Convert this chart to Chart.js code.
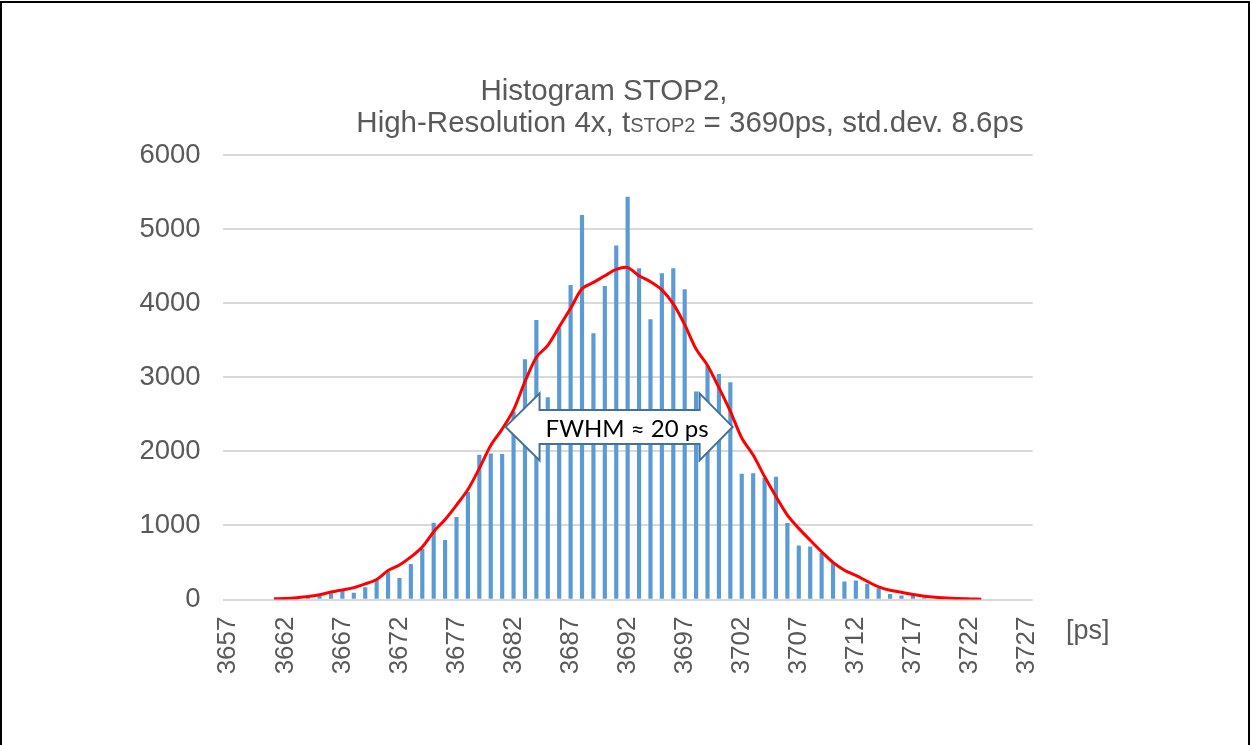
<!DOCTYPE html>
<html>
<head>
<meta charset="utf-8">
<script src="https://cdn.jsdelivr.net/npm/chart.js@4"></script>
<style>
  body { margin: 0; background: #fff; }
  #frame { position: absolute; left: 0; top: 1px; width: 1246px; height: 800px; border: 2px solid #000; }
  #histo { position: absolute; left: 0; top: 0; }
</style>
</head>
<body>
<div id="frame"></div>
<canvas id="histo" width="1251" height="745"></canvas>
<script>
// histogram of STOP2 time stamps, 1 ps bins
const categories = [
  3657, 3658, 3659, 3660, 3661, 3662, 3663, 3664, 3665, 3666,
  3667, 3668, 3669, 3670, 3671, 3672, 3673, 3674, 3675, 3676,
  3677, 3678, 3679, 3680, 3681, 3682, 3683, 3684, 3685, 3686,
  3687, 3688, 3689, 3690, 3691, 3692, 3693, 3694, 3695, 3696,
  3697, 3698, 3699, 3700, 3701, 3702, 3703, 3704, 3705, 3706,
  3707, 3708, 3709, 3710, 3711, 3712, 3713, 3714, 3715, 3716,
  3717, 3718, 3719, 3720, 3721, 3722, 3723, 3724, 3725, 3726,
  3727
];

// empty bins left as null so nothing is drawn there
const barCounts = [
  null, null, null, null, null, null, 5, 20, 47, 80,
  115, 85, 160, 263, 370, 285, 475, 680, 1030, 800,
  1110, 1445, 1950, 1965, 1960, 2532, 3238, 3768, 2726, 3660,
  4240, 5184, 3589, 4227, 4775, 5431, 4466, 3778, 4398, 4466,
  4182, 2802, 3150, 3040, 2928, 1692, 1701, 1634, 1652, 1027,
  725, 712, 623, 496, 240, 253, 209, 146, 70, 51,
  51, 20, null, null, null, null, null, null, null, null,
  null
];

// red gaussian-ish fit
const fitCurve = [
  null, null, null, null, 10, 15, 25, 40, 65, 100,
  130, 160, 210, 270, 390, 465, 575, 710, 915, 1080,
  1275, 1485, 1770, 2080, 2300, 2560, 2940, 3270, 3430, 3680,
  3930, 4195, 4280, 4370, 4455, 4480, 4370, 4290, 4180, 3990,
  3710, 3380, 3160, 2860, 2540, 2180, 1950, 1660, 1390, 1140,
  960, 800, 645, 500, 395, 325, 245, 170, 125, 98,
  67, 45, 30, 20, 12, 8, 5, null, null, null,
  null
];

const tickEvery = 5;
const yMax = 6000;
const yStep = 1000;

const titleLine1 = "Histogram STOP2,";
const titleLine2 = ["High-Resolution 4x, t", "STOP2", " = 3690ps, std.dev. 8.6ps"];
const unitLabel = "[ps]";
const fwhmText = "FWHM \u2248 20 ps";
const fwhmFrom = 3681.3, fwhmTo = 3701.2;   // ps
const fwhmLevel = 2330;

const grey = "#595959";
const font = '"Liberation Sans", Arial, sans-serif';

// chart area edges in px
const area = { left: 222.6, right: 1032.7, top: 155, bottom: 599.5 };

const decorations = {
  id: "decorations",
  afterDatasetsDraw(chart) {
    const { ctx, scales: { x, y } } = chart;
    const px = v => x.getPixelForValue(v - categories[0]);
    const x0 = px(fwhmFrom), x1 = px(fwhmTo);
    const xi0 = x0 + 34, xi1 = x1 - 33;
    const yc = y.getPixelForValue(fwhmLevel);
    const hh = 33.5, bh = 17;

    ctx.save();
    ctx.beginPath();
    ctx.moveTo(x0, yc);
    ctx.lineTo(xi0, yc - hh);
    ctx.lineTo(xi0, yc - bh);
    ctx.lineTo(xi1, yc - bh);
    ctx.lineTo(xi1, yc - hh);
    ctx.lineTo(x1, yc);
    ctx.lineTo(xi1, yc + hh);
    ctx.lineTo(xi1, yc + bh);
    ctx.lineTo(xi0, yc + bh);
    ctx.lineTo(xi0, yc + hh);
    ctx.closePath();
    ctx.fillStyle = "#fff";
    ctx.fill();
    ctx.strokeStyle = "#41719C";
    ctx.lineWidth = 2;
    ctx.stroke();

    ctx.fillStyle = "#000";
    ctx.font = '24px Lato, "Liberation Sans", sans-serif';
    ctx.textAlign = "center";
    ctx.textBaseline = "middle";
    ctx.fillText(fwhmText, (x0 + x1) / 2 + 8, yc + 2);
    ctx.restore();
  },
  afterDraw(chart) {
    const { ctx } = chart;
    ctx.save();
    ctx.fillStyle = grey;
    ctx.textBaseline = "alphabetic";
    ctx.font = "29.5px " + font;
    ctx.textAlign = "center";
    ctx.fillText(titleLine1, 604, 100);

    // second line with small "STOP2"
    const big = "29.5px " + font, small = "20px " + font;
    ctx.textAlign = "left";
    ctx.font = big;
    const w0 = ctx.measureText(titleLine2[0]).width;
    const w2 = ctx.measureText(titleLine2[2]).width;
    ctx.font = small;
    const w1 = ctx.measureText(titleLine2[1]).width;
    let xs = 690 - (w0 + w1 + w2) / 2;
    ctx.font = big;
    ctx.fillText(titleLine2[0], xs, 132);
    ctx.font = small;
    ctx.fillText(titleLine2[1], xs + w0, 132);
    ctx.font = big;
    ctx.fillText(titleLine2[2], xs + w0 + w1, 132);

    ctx.font = "27px " + font;
    ctx.textBaseline = "middle";
    ctx.fillText(unitLabel, 1066, 632);
    ctx.restore();
  }
};

new Chart(document.getElementById("histo").getContext("2d"), {
  data: {
    labels: categories,
    datasets: [
      {
        type: "line",
        data: fitCurve,
        borderColor: "#FF0000",
        borderWidth: 3,
        pointRadius: 0,
        tension: 0.3,
        spanGaps: false,
        order: 0
      },
      {
        type: "bar",
        data: barCounts,
        backgroundColor: "#5B9BD5",
        barThickness: 3.5,
        order: 1
      }
    ]
  },
  options: {
    responsive: false,
    animation: false,
    devicePixelRatio: 1,
    layout: { padding: { top: area.top, right: 1251 - area.right, left: 0, bottom: 0 } },
    plugins: { legend: { display: false }, tooltip: { enabled: false } },
    scales: {
      x: {
        type: "category",
        offset: true,
        grid: { display: false, drawTicks: false },
        border: { display: false },
        ticks: {
          autoSkip: false,
          minRotation: 90,
          maxRotation: 90,
          padding: 17,
          color: grey,
          font: { family: font, size: 26 },
          callback(val) {
            const c = categories[val];
            return (c - categories[0]) % tickEvery === 0 ? String(c) : "";
          }
        },
        afterFit(s) { s.height = 745 - area.bottom; }
      },
      y: {
        min: 0,
        max: yMax,
        grid: { color: "#D9D9D9", lineWidth: 2, drawTicks: false },
        border: { display: false },
        ticks: {
          stepSize: yStep,
          padding: 22,
          color: grey,
          font: { family: font, size: 27.5 },
          callback: v => String(v)
        },
        afterFit(s) { s.width = area.left; }
      }
    }
  },
  plugins: [decorations]
});
</script>
</body>
</html>
